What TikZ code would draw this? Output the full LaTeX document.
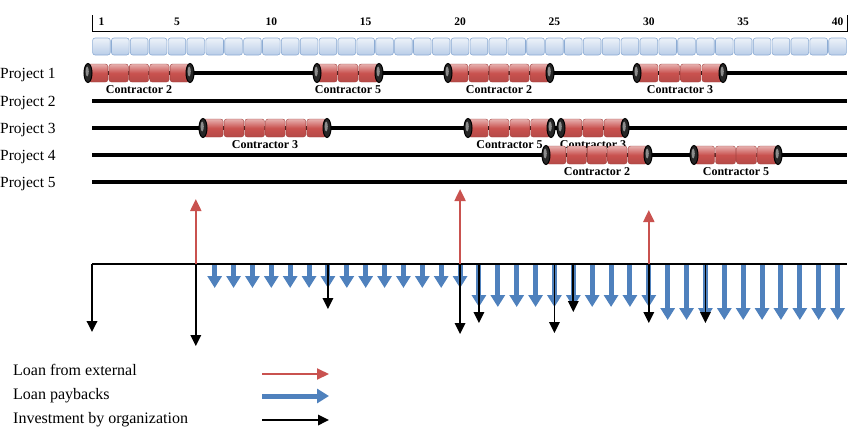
\documentclass[tikz,border=0pt]{standalone}
\usepackage{fontspec}
\setmainfont{Liberation Serif}
\usetikzlibrary{arrows.meta}
\definecolor{barred}{HTML}{C9524F}
\definecolor{payblue}{HTML}{4F81BD}
\definecolor{cellblue}{HTML}{B9CDE8}
\definecolor{celledge}{HTML}{8DACD4}
\def\u{18.875}
\newcommand{\contractorbar}[6]{%
	\pgfmathsetmacro{\segw}{(#2-#1)/#4}
	\foreach \k in {1,...,#4}
		\path[segment] ({#1+(\k-1)*\segw+0.5},#3-9) rectangle ({#1+\k*\segw-0.5},#3+9);
	\foreach \c in {#1,#2}{
		\draw[barcap] (\c,#3) ellipse (4pt and 9.5pt);
		\fill[black!45] (\c-0.8,#3-1.5) ellipse (1.6pt and 5pt);
	}
	\node[contlabel] (#6) at ({(#1+#2)/2},#3+17) {Contractor #5};
}

\begin{document}
\begin{tikzpicture}[x=1pt,y=-1pt,
		segment/.style={rounded corners=2.5pt,draw=barred!80!black,line width=0.4pt,top color=barred!45!white,bottom color=barred!90!black,middle color=barred},
		barcap/.style={draw=black,line width=1pt,fill=black!85},
		cell/.style={rounded corners=2.5pt,draw=celledge,line width=0.6pt,top color=cellblue!25!white,bottom color=cellblue},
		projline/.style={line width=4pt},
		projlabel/.style={anchor=base west,inner sep=0pt,font=\fontsize{15.5}{18}\selectfont},
		legtext/.style={anchor=base west,inner sep=0pt,font=\fontsize{16}{18}\selectfont},
		contlabel/.style={inner sep=0pt,font=\bfseries\fontsize{12}{14}\selectfont},
		tick/.style={inner sep=0pt,font=\bfseries\fontsize{11.5}{13}\selectfont},
		loan/.style={draw=barred,line width=2pt,-{Triangle[width=11pt,length=12pt]}},
		payback/.style={draw=payblue,line width=5pt,-{Triangle[width=14pt,length=12pt]}},
		invest/.style={draw=black,line width=1.8pt,-{Triangle[width=10.5pt,length=11pt]}}]
	\useasboundingbox (0,0) rectangle (850,426);
	% time axis
	\draw[line width=1pt] (92,15) -- (92,31) -- (847,31) -- (847,15);
	\foreach \n in {1,5,10,15,...,40}
		\node[tick] (t\n) at ({92+(\n-0.5)*\u},22) {\n};
	\foreach \i in {1,...,40}
		\path[cell] ({92+(\i-1)*\u+0.6},38) rectangle ({92+\i*\u-0.6},55);
	% projects
	\foreach \y [count=\p] in {73,101,128,155,182}{
		\draw[projline] (92,\y) -- (847,\y);
		\node[projlabel] (proj\p) at (0,\y+5.5) {Project \p};
	}
	\contractorbar{88}{190}{73}{5}{2}{pa}
	\contractorbar{317}{379}{73}{3}{5}{pb}
	\contractorbar{448}{550}{73}{5}{2}{pc}
	\contractorbar{637}{723}{73}{4}{3}{pd}
	\contractorbar{203}{327}{128}{6}{3}{qa}
	\contractorbar{468}{551}{128}{4}{5}{qb}
	\contractorbar{561}{625}{128}{3}{3}{qc}
	\contractorbar{546}{648}{155}{5}{2}{ra}
	\contractorbar{694}{778}{155}{4}{5}{rb}
	% cash flows
	\draw[line width=1.6pt] (92,264) -- (847,264);
	\foreach \i/\t in {7/288,8/288,9/288,10/288,11/288,12/288,13/288,14/288,15/288,16/288,17/288,18/288,19/288,20/288,
			21/307,22/307,23/307,24/307,25/307,26/307,27/307,28/307,29/307,30/307,
			31/320,32/320,33/320,34/320,35/320,36/320,37/320,38/320,39/320,40/320}
		\draw[payback] ({92+(\i-0.5)*\u},265) -- ({92+(\i-0.5)*\u},\t);
	\foreach \i/\t in {6/199,20/189,30/210}
		\draw[loan] ({92+(\i-0.5)*\u},264) -- ({92+(\i-0.5)*\u},\t);
	\draw[invest] (92,264) -- (92,332);
	\foreach \i/\t in {6/346,13/309,20/334,21/323,25/333,26/312,30/323,33/323}
		\draw[invest] ({92+(\i-0.5)*\u},264) -- ({92+(\i-0.5)*\u},\t);
	% legend
	\node[legtext] (leg1) at (13,375.5) {Loan from external};
	\node[legtext] (leg2) at (13,399) {Loan paybacks};
	\node[legtext] (leg3) at (13,423) {Investment by organization};
	\draw[loan] (262,374) -- (329,374);
	\draw[payback] (262,396) -- (329,396);
	\draw[invest] (262,420) -- (329,420);
\end{tikzpicture}
\end{document}
